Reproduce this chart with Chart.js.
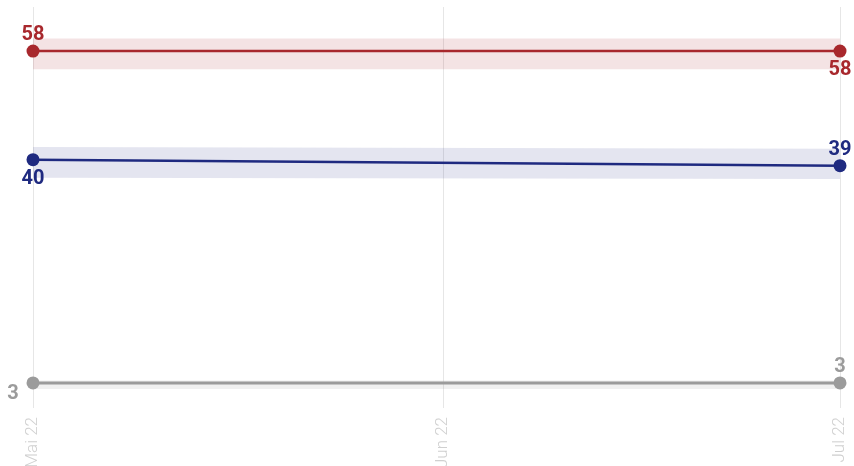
<!DOCTYPE html>
<html>
<head>
<meta charset="utf-8">
<script src="https://cdn.jsdelivr.net/npm/chart.js@4/dist/chart.umd.min.js"></script>
<style>
  html, body { margin: 0; padding: 0; background: #fff; }
  #wrap { width: 854px; height: 466px; }
</style>
</head>
<body>
<div id="wrap"><canvas id="pollChart"></canvas></div>
<script>
// month ticks (days since 1 May 2022)
const monthLabels = ['Mai 22', 'Jun 22', 'Jul 22'];
const monthDays = [0, 31, 61];

// poll dates (days since 1 May 2022)
const pollDays = [0, 61];

// series values
const redValues = [58, 58];
const redHigh = [60.1, 60.1];
const redLow = [55.0, 55.0];

const blueValues = [40, 39];
const blueHigh = [42.1, 41.8];
const blueLow = [37.0, 36.8];

const greyValues = [3, 3];
const greyHigh = [3.4, 3.4];
const greyLow = [2.0, 2.0];

const RED = '#a8282d';
const BLUE = '#1f2a80';
const GREY = '#9b9b9b';

const pts = (vals) => vals.map((v, i) => ({ x: pollDays[i], y: v }));

function band(high, low, color) {
    return [
        { data: pts(high), borderWidth: 0, pointRadius: 0, fill: false, backgroundColor: color, order: 5 },
        { data: pts(low), borderWidth: 0, pointRadius: 0, fill: '-1', backgroundColor: color, order: 5 },
    ];
}

function line(vals, color, width, labelPos) {
    return {
        data: pts(vals),
        borderColor: color,
        backgroundColor: color,
        borderWidth: width,
        pointRadius: 6.5,
        pointHoverRadius: 6.5,
        pointBorderWidth: 0,
        fill: false,
        clip: false,
        order: 1,
        labelPos: labelPos,
    };
}

// draws value labels next to the points
const valueLabels = {
    id: 'valueLabels',
    afterDatasetsDraw(chart) {
        const ctx = chart.ctx;
        ctx.save();
        ctx.font = 'bold 20px Roboto';
        ctx.textAlign = 'center';
        ctx.textBaseline = 'middle';
        chart.data.datasets.forEach((ds, di) => {
            if (!ds.labelPos) return;
            const meta = chart.getDatasetMeta(di);
            meta.data.forEach((p, i) => {
                const pos = ds.labelPos[i];
                let dx = 0, dy = 0;
                if (pos === 'above') dy = -16;
                if (pos === 'below') dy = 19;
                if (pos === 'left') { dx = -20; dy = 11; }
                ctx.fillStyle = ds.borderColor;
                ctx.fillText(String(ds.data[i].y), p.x + dx, p.y + dy);
            });
        });
        ctx.restore();
    }
};

const ctx = document.getElementById('pollChart').getContext('2d');
const pollChart = new Chart(ctx, {
    type: 'line',
    data: {
        datasets: [
            ...band(redHigh, redLow, 'rgba(168, 40, 45, 0.13)'),
            ...band(blueHigh, blueLow, 'rgba(31, 42, 128, 0.12)'),
            ...band(greyHigh, greyLow, 'rgba(155, 155, 155, 0.15)'),
            line(redValues, RED, 2.5, ['above', 'below']),
            line(blueValues, BLUE, 2.5, ['below', 'above']),
            line(greyValues, GREY, 3, ['left', 'above']),
        ],
    },
    options: {
        responsive: true,
        maintainAspectRatio: false,
        animation: false,
        layout: {
            padding: { left: 33, right: 14, top: 7, bottom: 0 },
        },
        plugins: {
            legend: { display: false },
            tooltip: { enabled: false },
        },
        scales: {
            x: {
                type: 'linear',
                min: monthDays[0],
                max: monthDays[monthDays.length - 1],
                afterBuildTicks: (axis) => {
                    axis.ticks = monthDays.map(v => ({ value: v }));
                },
                afterFit: (axis) => {
                    axis.height = 65;
                    axis.paddingLeft = 0;
                    axis.paddingRight = 0;
                },
                border: { display: false },
                grid: {
                    color: '#e6e6e6',
                    lineWidth: 1,
                    drawTicks: true,
                    tickLength: 7,
                },
                ticks: {
                    autoSkip: false,
                    minRotation: 90,
                    maxRotation: 90,
                    padding: 9,
                    color: '#d0d0d0',
                    font: { family: 'Roboto', size: 17, weight: '300' },
                    callback: (v) => monthLabels[monthDays.indexOf(v)],
                },
            },
            y: {
                display: false,
                min: 0,
                max: 65.3,
            },
        },
    },
    plugins: [valueLabels],
});
</script>
</body>
</html>
